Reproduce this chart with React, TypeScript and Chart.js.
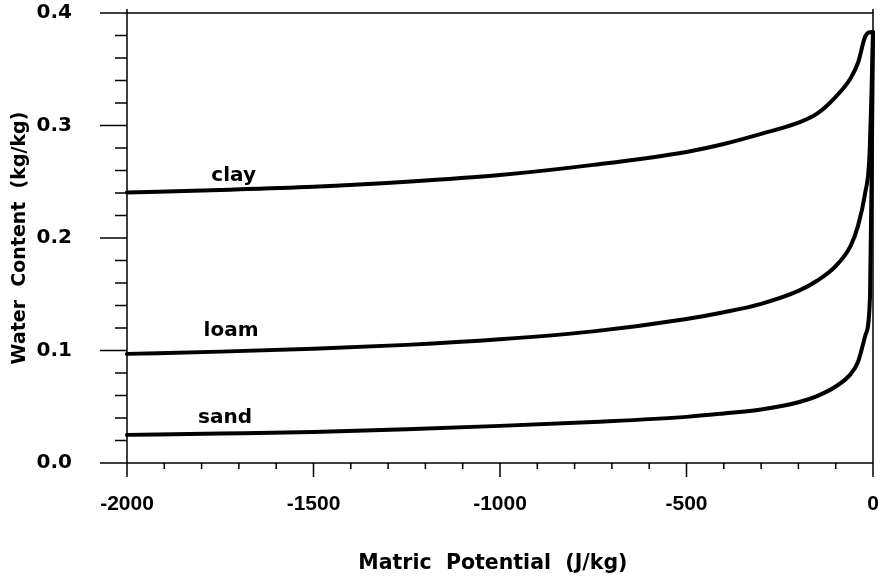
import React, { useEffect, useRef } from "react";
import { Chart, registerables } from "chart.js";

Chart.register(...registerables);

// ---- data ----
const xTicks = [-2000, -1500, -1000, -500, 0];
const yTicks = [0, 0.1, 0.2, 0.3, 0.4];
const xMinorStep = 100;
const yMinorStep = 0.02;

const clayX = [-2000, -1750, -1500, -1250, -1000, -750, -500, -400, -300, -200, -150, -100, -60, -40, -21, -8, 0];
const clayY = [0.2405, 0.2427, 0.2455, 0.25, 0.256, 0.265, 0.2765, 0.2835, 0.2925, 0.3025, 0.3105, 0.3255, 0.342, 0.356, 0.379, 0.383, 0.383];

const loamX = [-2000, -1750, -1500, -1250, -1000, -750, -500, -400, -300, -200, -150, -100, -60, -40, -21, -10, -4, 0];
const loamY = [0.097, 0.099, 0.1015, 0.105, 0.11, 0.117, 0.128, 0.134, 0.1415, 0.153, 0.162, 0.175, 0.193, 0.211, 0.24, 0.27, 0.33, 0.383];

const sandX = [-2000, -1750, -1500, -1250, -1000, -750, -500, -400, -300, -200, -150, -100, -60, -40, -20, -8, -3, 0];
const sandY = [0.025, 0.0262, 0.0276, 0.03, 0.033, 0.0365, 0.041, 0.044, 0.0475, 0.054, 0.0595, 0.068, 0.079, 0.09, 0.114, 0.148, 0.278, 0.383];

const curveLabels = ["clay", "loam", "sand"];
const curveLabelX = [-1714, -1721, -1737];
const curveLabelY = [0.2503, 0.113, 0.0358];

const xTitle = "Matric  Potential  (J/kg)  ";
const yTitle = "Water  Content  (kg/kg)";

const FONT = "'DejaVu Sans', sans-serif";

const toPts = (xs: number[], ys: number[]) => xs.map((x, i) => ({ x, y: ys[i] }));

const framePlugin = {
  id: "frame",
  beforeDatasetsDraw(chart: any) {
    const { ctx, chartArea, scales } = chart;
    const { left, right, top, bottom } = chartArea;
    const x = scales.x;
    const y = scales.y;
    ctx.save();
    ctx.strokeStyle = "#000";
    ctx.lineWidth = 1.5;
    ctx.beginPath();
    ctx.moveTo(left, top - 4);
    ctx.lineTo(left, bottom);
    ctx.moveTo(left, bottom);
    ctx.lineTo(right, bottom);
    ctx.moveTo(left, top);
    ctx.lineTo(right, top);
    ctx.moveTo(right, top - 4);
    ctx.lineTo(right, bottom);
    for (const v of yTicks) {
      const py = y.getPixelForValue(v);
      ctx.moveTo(left - 27, py);
      ctx.lineTo(left, py);
    }
    const yMin = yTicks[0];
    const yMax = yTicks[yTicks.length - 1];
    const nY = Math.round((yMax - yMin) / yMinorStep);
    for (let i = 0; i <= nY; i++) {
      if (i % 5 === 0) continue;
      const py = y.getPixelForValue(yMin + i * yMinorStep);
      ctx.moveTo(left - 12, py);
      ctx.lineTo(left, py);
    }
    for (const v of xTicks) {
      const px = x.getPixelForValue(v);
      ctx.moveTo(px, bottom);
      ctx.lineTo(px, bottom + 14);
    }
    const xMin = xTicks[0];
    const xMax = xTicks[xTicks.length - 1];
    const nX = Math.round((xMax - xMin) / xMinorStep);
    for (let i = 0; i <= nX; i++) {
      if (i % 5 === 0) continue;
      const px = x.getPixelForValue(xMin + i * xMinorStep);
      ctx.moveTo(px, bottom);
      ctx.lineTo(px, bottom + 6);
    }
    ctx.stroke();
    ctx.restore();
  },
  afterDatasetsDraw(chart: any) {
    const { ctx, scales } = chart;
    ctx.save();
    ctx.fillStyle = "#000";
    ctx.font = `bold 20px ${FONT}`;
    ctx.textAlign = "center";
    ctx.textBaseline = "alphabetic";
    curveLabels.forEach((t, i) => {
      ctx.fillText(t, scales.x.getPixelForValue(curveLabelX[i]), scales.y.getPixelForValue(curveLabelY[i]));
    });
    ctx.restore();
  },
};

export default function App() {
  const ref = useRef<HTMLCanvasElement | null>(null);
  useEffect(() => {
    if (!ref.current) return;
    const line = {
      borderColor: "#000",
      borderWidth: 4,
      pointRadius: 0,
      cubicInterpolationMode: "monotone" as const,
      fill: false,
      clip: false as any,
      borderJoinStyle: "round" as const,
      borderCapStyle: "round" as const,
    };
    const hiddenGrid = (len: number) => ({ display: true, drawOnChartArea: false, drawTicks: true, tickLength: len, tickColor: "rgba(0,0,0,0)", color: "rgba(0,0,0,0)" });
    const chart = new Chart(ref.current, {
      type: "line",
      data: {
        datasets: [
          { label: "clay", data: toPts(clayX, clayY), ...line },
          { label: "loam", data: toPts(loamX, loamY), ...line },
          { label: "sand", data: toPts(sandX, sandY), ...line },
        ],
      },
      options: {
        animation: false,
        responsive: false,
        devicePixelRatio: 1,
        layout: { padding: { top: 13, right: 11, left: 0, bottom: 0 } },
        plugins: { legend: { display: false }, tooltip: { enabled: false } },
        scales: {
          x: {
            type: "linear",
            min: xTicks[0],
            max: xTicks[xTicks.length - 1],
            afterFit: (s: any) => { s.height = 122; },
            afterBuildTicks: (s: any) => { s.ticks = xTicks.map((v) => ({ value: v })); },
            grid: hiddenGrid(29),
            border: { display: false },
            ticks: {
              color: "#000",
              font: { family: "'Liberation Sans', Arial, sans-serif", size: 21, weight: "bold" },
              padding: 0,
              maxRotation: 0,
              autoSkip: false,
              callback: (v: any) => String(v),
            },
            title: {
              display: true,
              text: xTitle,
              color: "#000",
              font: { family: FONT, size: 20.5, weight: "bold" },
              padding: { top: 0, bottom: 9 },
            },
          },
          y: {
            type: "linear",
            min: yTicks[0],
            max: yTicks[yTicks.length - 1],
            afterFit: (s: any) => { s.width = 127; },
            afterBuildTicks: (s: any) => { s.ticks = yTicks.map((v) => ({ value: v })); },
            grid: hiddenGrid(55),
            border: { display: false },
            ticks: {
              color: "#000",
              font: { family: FONT, size: 20, weight: "bold" },
              padding: 0,
              callback: (v: any) => Number(v).toFixed(1),
            },
            title: {
              display: true,
              text: yTitle,
              color: "#000",
              font: { family: FONT, size: 19, weight: "bold" },
              padding: { top: 9, bottom: 0 },
            },
          },
        },
      },
      plugins: [framePlugin],
    });
    return () => chart.destroy();
  }, []);
  return (
    <div style={{ position: "absolute", left: 0, top: 0, width: 884, height: 585, background: "#fff" }}>
      <canvas ref={ref} width={884} height={585} />
    </div>
  );
}
